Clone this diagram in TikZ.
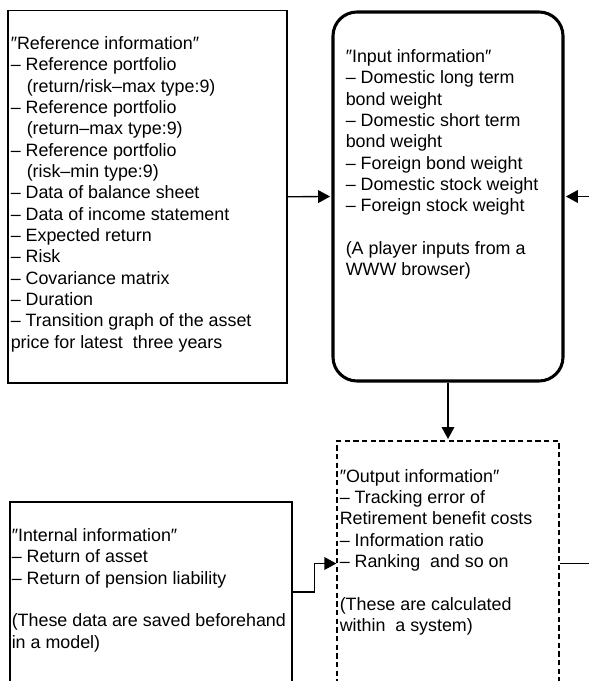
\documentclass[tikz,border=0pt]{standalone}
\usepackage{fontspec}
\setmainfont{Liberation Sans}
\usetikzlibrary{arrows.meta,fit}
\begin{document}
\begin{tikzpicture}[x=0.75pt,y=-0.75pt,
  box/.style={draw, line width=1pt, inner sep=0pt},
  inbox/.style={draw, line width=2.3pt, rounded corners=18pt, inner sep=0pt},
  outbox/.style={draw, line width=1pt, dash pattern=on 4pt off 2.5pt, inner sep=0pt},
  txt/.style={anchor=north west, align=left, inner sep=0pt, font=\fontsize{13.4pt}{16pt}\selectfont},
  conn/.style={line width=1pt},
  arr/.style={conn, -{Triangle[length=9pt,width=9.5pt]}}]
\useasboundingbox (0,0) rectangle (589,681);
\fill[white] (0,0) rectangle (589,681);
\clip (0,0) rectangle (589,681);
% boxes
\node[box, fit={(8,10.5) (287,383)}] (ref) {};
\node[inbox, fit={(333,12) (563,381)}] (in) {};
\node[outbox, fit={(337,441) (559,686)}] (out) {};
\node[box, fit={(10,502) (292,682)}] (int) {};
% texts
\node[txt] (reftxt) at (10.5,34.4) {\strut ″Reference information″\\
– Reference portfolio\\
\hspace*{12pt}(return/risk–max type:9)\\
– Reference portfolio\\
\hspace*{12pt}(return–max type:9)\\
– Reference portfolio\\
\hspace*{12pt}(risk–min type:9)\\
– Data of balance sheet\\
– Data of income statement\\
– Expected return\\
– Risk\\
– Covariance matrix\\
– Duration\\
– Transition graph of the asset\\
price for latest\ \ three years};
\node[txt] (intxt) at (345.5,47.2) {\strut ″Input information″\\
– Domestic long term\\
bond weight\\
– Domestic short term\\
bond weight\\
– Foreign bond weight\\
– Domestic stock weight\\
– Foreign stock weight\\
\strut\\
(A player inputs from a\\
WWW browser)};
\node[txt] (inttxt) at (11.5,526.3) {\strut ″Internal information″\\
– Return of asset\\
– Return of pension liability\\
\strut\\
(These data are saved beforehand\\
in a model)};
\node[txt] (outtxt) at (339.5,466.8) {\strut ″Output information″\\
– Tracking error of\\
Retirement benefit costs\\
– Information ratio\\
– Ranking\ \ and so on\\
\strut\\
(These are calculated\\
within\ \ a system)};
% connectors
\coordinate (rin) at (589,196.5);
\coordinate (rout) at (589,563.5);
\draw[arr, shorten >=1pt] (ref.east) -- (in.west);
\draw[arr, shorten >=1pt] (rin) -- (in.east);
\draw[arr, shorten >=1pt] (in.south) -- (out.north);
\draw[arr] (int.east) -- ++(22,0) |- (out.west);
\draw[conn] (out.east) -- (rout);
\end{tikzpicture}
\end{document}
